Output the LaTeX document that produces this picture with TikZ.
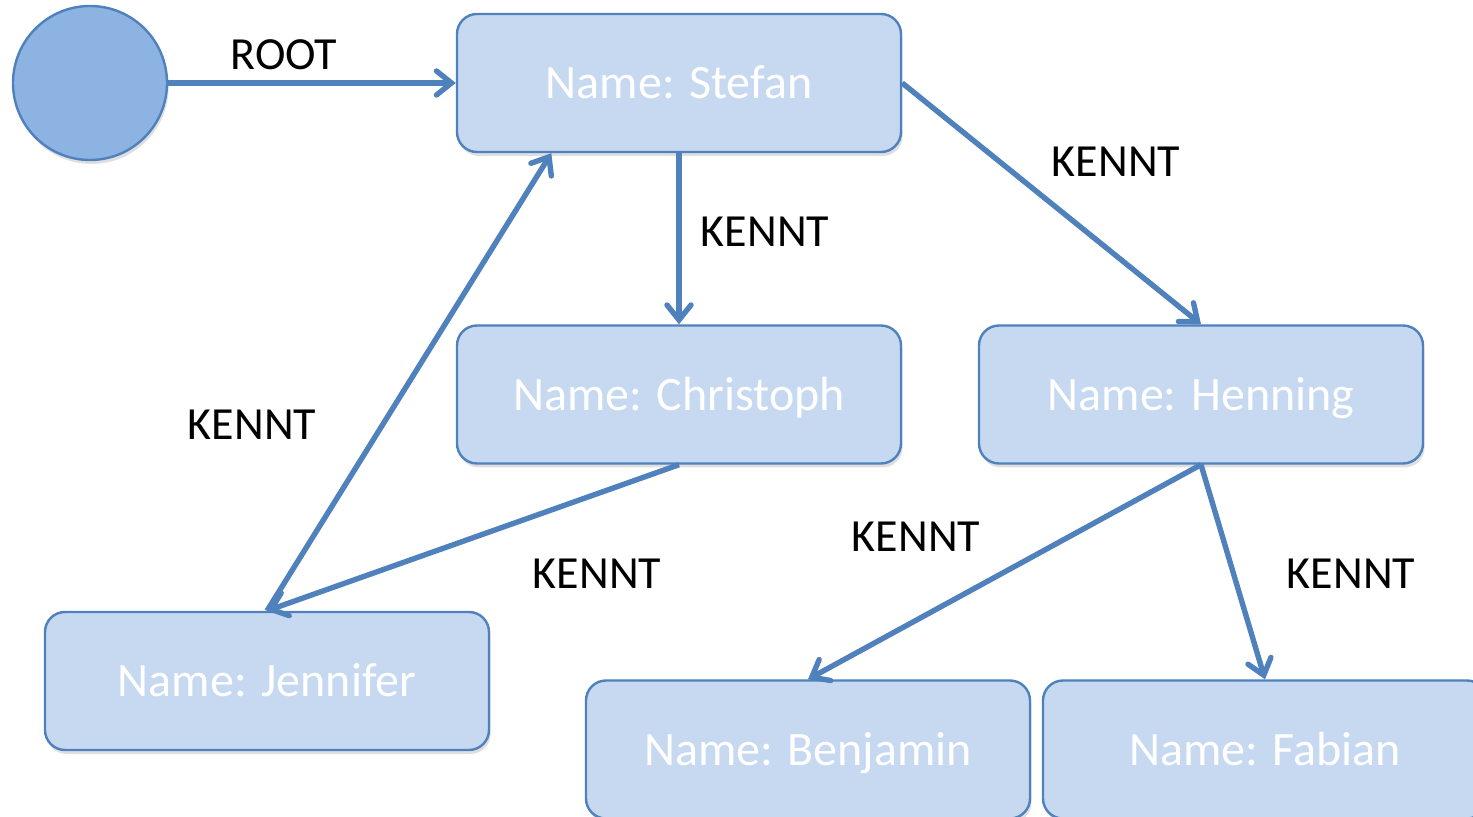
\documentclass[tikz,border=0pt]{standalone}
\usepackage{fontspec}
\setmainfont{Carlito}
\usetikzlibrary{arrows.meta,shadows,calc}
\definecolor{boxfill}{HTML}{C6D9F1}
\definecolor{boxline}{HTML}{4F81BD}
\definecolor{rootfill}{HTML}{8DB3E2}
\definecolor{arrowcol}{HTML}{4F81BD}
\begin{document}
\begin{tikzpicture}[x=0.5pt,y=-0.5pt,
  person/.style={draw=boxline, line width=1.2pt, fill=boxfill, rounded corners=10pt,
    minimum width=222pt, minimum height=69pt, inner sep=0pt,
    text height=20pt, text depth=4pt,
    text=white, font=\fontsize{24}{28}\selectfont,
    drop shadow={shadow xshift=0.8pt, shadow yshift=-2pt, opacity=0.25}},
  rootnode/.style={circle, draw=boxline, line width=1.2pt, fill=rootfill,
    minimum size=77pt, inner sep=0pt,
    drop shadow={shadow xshift=0.8pt, shadow yshift=-2pt, opacity=0.25}},
  rel/.style={draw=arrowcol, line width=2.7pt,
    -{Straight Barb[length=7.5pt,width=12pt,line width=2.7pt,line cap=round]}},
  lbl/.style={font=\fontsize{23}{27}\selectfont, text=black, inner sep=0pt}]
\path[use as bounding box, clip] (0,0) rectangle (1473,817);
\fill[white] (0,0) rectangle (1473,817);
\node[rootnode] (root) at (90,83) {};
\node[person] (stefan) at (679,83) {Name: Stefan};
\node[person] (christoph) at (679,394.5) {Name: Christoph};
\node[person] (henning) at (1201,394.5) {Name: Henning};
\node[person] (jennifer) at (267,681) {Name: Jennifer};
\node[person] (benjamin) at (808,749.5) {Name: Benjamin};
\node[person] (fabian) at (1265,749.5) {Name: Fabian};
\coordinate (sj) at ($(stefan.south west)!0.214!(stefan.south east)$);
\draw[rel] (root.east) -- (stefan.west);
\draw[rel] (stefan.south) -- (christoph.north);
\draw[rel] (stefan.east) -- (henning.north);
\draw[rel] (christoph.south) -- (jennifer.north);
\draw[rel] (jennifer.north) -- (sj);
\draw[rel] (henning.south) -- (benjamin.north);
\draw[rel] (henning.south) -- (fabian.north);
\node[lbl] (l0) at (284,55) {ROOT};
\node[lbl] (l1) at (765,232) {KENNT};
\node[lbl] (l2) at (1116,162) {KENNT};
\node[lbl] (l3) at (252,425) {KENNT};
\node[lbl] (l4) at (597,574) {KENNT};
\node[lbl] (l5) at (916,537) {KENNT};
\node[lbl] (l6) at (1351,574) {KENNT};
\end{tikzpicture}
\end{document}
